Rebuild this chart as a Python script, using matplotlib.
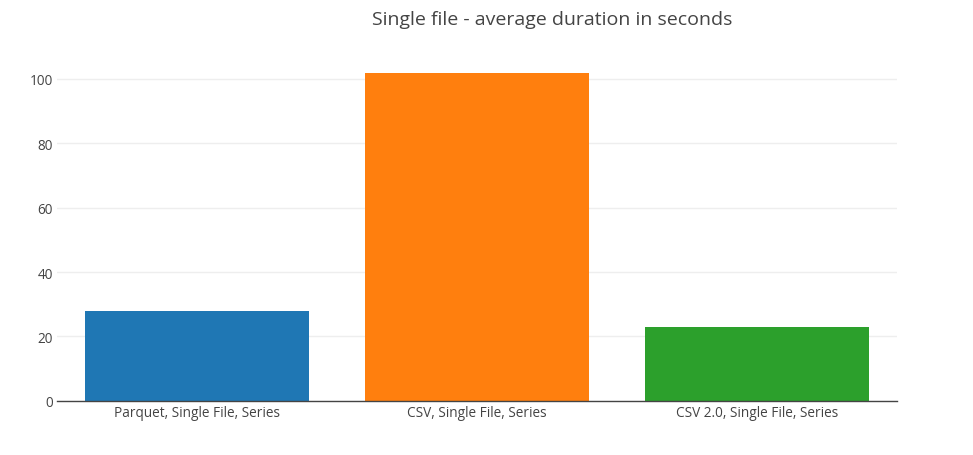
import matplotlib.pyplot as plt

categories = ['Parquet, Single File, Series', 'CSV, Single File, Series', 'CSV 2.0, Single File, Series']
durations = [28.0, 101.9, 22.8]
colors = ['#1f77b4', '#ff7f0e', '#2ca02c']
yticks = [0, 20, 40, 60, 80, 100]

plt.rcParams['font.family'] = ['Open Sans', 'DejaVu Sans']

W, H = 973, 456
fig = plt.figure(figsize=(W / 100, H / 100), dpi=100)
left, right, bottom, top = 57, 897, 401.7, 56.5
ax = fig.add_axes([left / W, 1 - bottom / H, (right - left) / W, (bottom - top) / H])

x = range(len(categories))
ax.bar(x, durations, width=0.8, color=colors, zorder=2)

ax.set_xlim(-0.5, 2.5)
ax.set_ylim(0, 107.3)
ax.set_yticks(yticks)
ax.set_xticks(list(x))
ax.set_xticklabels(categories)
ax.grid(axis='y', color='#eeeeee', linewidth=1, zorder=0)
ax.tick_params(axis='both', length=0, labelsize=9.8, labelcolor='#444444', pad=3)
ax.tick_params(axis='y', pad=3)
for s in ['top', 'right', 'left']:
    ax.spines[s].set_visible(False)
ax.spines['bottom'].set_color('#444444')
ax.spines['bottom'].set_linewidth(1)
ax.spines['bottom'].set_zorder(3)

fig.text(552 / W, 1 - 20 / H, 'Single file - average duration in seconds',
         ha='center', va='center', fontsize=14, color='#444444')

fig.savefig('out.png', dpi=100)
